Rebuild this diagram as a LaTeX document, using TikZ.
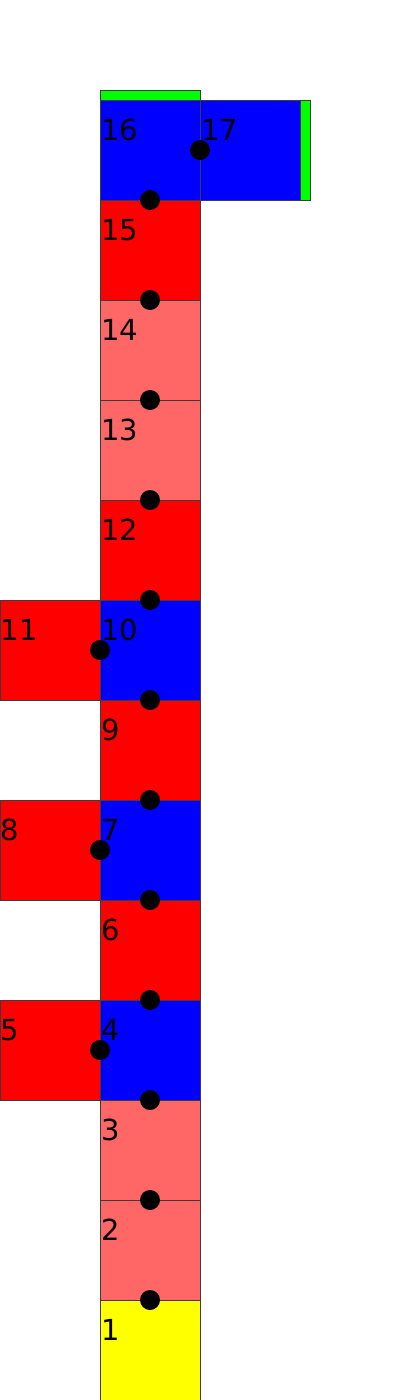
\documentclass[tikz,border=0pt]{standalone}
\usepackage{fontspec}
\setmainfont{DejaVu Sans}
\usetikzlibrary{positioning}

\definecolor{edgegray}{RGB}{60,60,60}
\definecolor{lightred}{RGB}{255,102,102}
\definecolor{baseyellow}{RGB}{255,255,0}
\definecolor{tabgreen}{RGB}{0,255,0}

\begin{document}
\begin{tikzpicture}[x=1pt, y=-1pt, line width=1pt,
    block/.style={draw=edgegray, minimum size=100pt, inner sep=0pt, outer sep=0pt, anchor=north west},
    tab/.style={draw=edgegray, fill=tabgreen},
    joint/.style={circle, fill=black, minimum size=20pt, inner sep=0pt},
    num/.style={anchor=base west, inner sep=0pt, font=\fontsize{29}{29}\selectfont}]
        % Frame
        \useasboundingbox (0,0) rectangle (400,1400);

        % Blocks
        \foreach \n/\x/\y/\c in {1/100/1300/baseyellow, 2/100/1200/lightred, 3/100/1100/lightred,
                4/100/1000/blue, 5/0/1000/red, 6/100/900/red, 7/100/800/blue, 8/0/800/red,
                9/100/700/red, 10/100/600/blue, 11/0/600/red, 12/100/500/red,
                13/100/400/lightred, 14/100/300/lightred, 15/100/200/red,
                16/100/100/blue, 17/200/100/blue}
        {
            \node[block, fill=\c] (s\n) at (\x,\y) {};
            \node[num] (t\n) at ([xshift=0.5pt, yshift=-40pt]s\n.north west) {\n};
        }

        % End tabs
        \draw[tab] (s16.north west) rectangle ++(100,-10);
        \draw[tab] (s17.north east) rectangle ++(10,100);

        % Joints
        \foreach \j/\a in {1/s1.north, 2/s2.north, 3/s3.north, 4/s4.west, 5/s4.north,
                6/s6.north, 7/s7.west, 8/s7.north, 9/s9.north, 10/s10.west,
                11/s10.north, 12/s12.north, 13/s13.north, 14/s14.north,
                15/s15.north, 16/s16.east}
            \node[joint] (j\j) at (\a) {};

\end{tikzpicture}
\end{document}
